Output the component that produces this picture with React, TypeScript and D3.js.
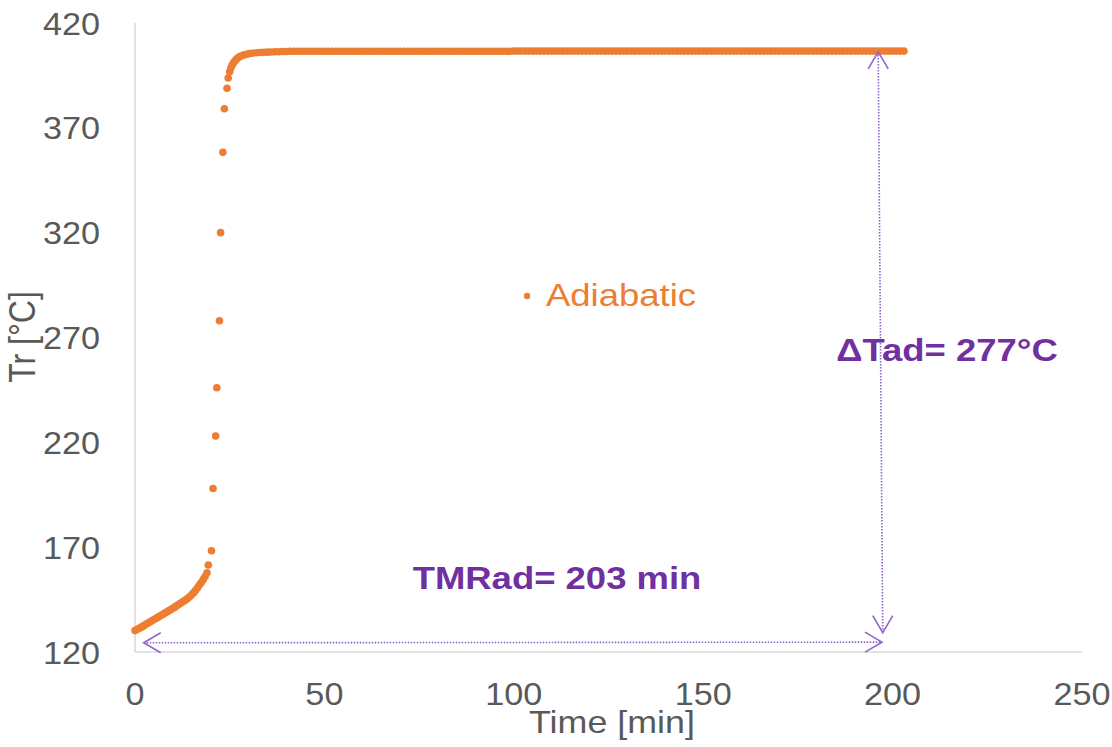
import React from "react";
import * as d3 from "d3";

const W = 1112;
const H = 747;

const xTicks = [0, 50, 100, 150, 200, 250];
const yTicks = [120, 170, 220, 270, 320, 370, 420];
const xTitle = "Time [min]";
const yTitle = "Tr [°C]";
const seriesName = "Adiabatic";
const tmrLabel = "TMRad= 203 min";
const dtLabel = "ΔTad= 277°C";

// [time min, Tr °C]
const adiabatic: [number, number][] = [
  [0, 130.2], [0.5, 130.7], [1, 131.2], [1.5, 131.7], [2, 132.2], [2.5, 132.7], [3, 133.3], [3.5, 133.8],
  [4, 134.4], [4.5, 134.9], [5, 135.5], [5.5, 136.0], [6, 136.5], [6.5, 137.0], [7, 137.6], [7.5, 138.1],
  [8, 138.7], [8.5, 139.2], [9, 139.8], [9.5, 140.3], [10, 140.9], [10.5, 141.4], [11, 142.0], [11.5, 142.6],
  [12, 143.2], [12.5, 143.8], [13, 144.4], [13.5, 145.0], [14, 145.7], [14.5, 146.5], [15, 147.4], [15.5, 148.3],
  [16, 149.4], [16.5, 150.6], [17, 151.9], [17.5, 153.1], [18, 154.5], [18.5, 156.0], [19, 157.8], [19.35, 161.5],
  [20.2, 168.3], [20.6, 198.0], [21.3, 223.0], [21.6, 246.0], [22.3, 278.0], [22.6, 320.0], [23.2, 358.3],
  [23.6, 379.1], [24.3, 388.9], [24.6, 393.8], [25.0, 396.8], [25.3, 398.5], [25.6, 399.8], [26.0, 401.0],
  [26.4, 402.0], [26.8, 402.8], [27.2, 403.4], [27.7, 404.0], [28.2, 404.4], [28.8, 404.8], [29.5, 405.1],
  [30.2, 405.4], [31, 405.6], [32, 405.8], [33, 405.9], [34, 406.0], [35, 406.1], [36, 406.2], [37, 406.3],
  [38, 406.3], [39, 406.4], [40, 406.4],
  [41, 406.5], [42, 406.5], [43, 406.5], [44, 406.5], [45, 406.5], [46, 406.5], [47, 406.5], [48, 406.5], [49, 406.5], [50, 406.5],
  [51, 406.5], [52, 406.5], [53, 406.5], [54, 406.5], [55, 406.5], [56, 406.5], [57, 406.5], [58, 406.5], [59, 406.5], [60, 406.5],
  [61, 406.5], [62, 406.5], [63, 406.5], [64, 406.5], [65, 406.5], [66, 406.5], [67, 406.5], [68, 406.5], [69, 406.5], [70, 406.5],
  [71, 406.5], [72, 406.5], [73, 406.5], [74, 406.5], [75, 406.5], [76, 406.5], [77, 406.5], [78, 406.5], [79, 406.5], [80, 406.5],
  [81, 406.5], [82, 406.5], [83, 406.5], [84, 406.5], [85, 406.5], [86, 406.5], [87, 406.5], [88, 406.5], [89, 406.5], [90, 406.5],
  [91, 406.5], [92, 406.5], [93, 406.5], [94, 406.5], [95, 406.5], [96, 406.5], [97, 406.5], [98, 406.5], [99, 406.5], [100, 406.6],
  [101, 406.6], [102, 406.6], [103, 406.6], [104, 406.6], [105, 406.6], [106, 406.6], [107, 406.6], [108, 406.6], [109, 406.6], [110, 406.6],
  [111, 406.6], [112, 406.6], [113, 406.6], [114, 406.6], [115, 406.6], [116, 406.6], [117, 406.6], [118, 406.6], [119, 406.6], [120, 406.6],
  [121, 406.6], [122, 406.6], [123, 406.6], [124, 406.6], [125, 406.6], [126, 406.6], [127, 406.6], [128, 406.6], [129, 406.6], [130, 406.6],
  [131, 406.6], [132, 406.6], [133, 406.6], [134, 406.6], [135, 406.6], [136, 406.6], [137, 406.6], [138, 406.6], [139, 406.6], [140, 406.6],
  [141, 406.6], [142, 406.6], [143, 406.6], [144, 406.6], [145, 406.6], [146, 406.6], [147, 406.6], [148, 406.6], [149, 406.6], [150, 406.6],
  [151, 406.6], [152, 406.6], [153, 406.6], [154, 406.6], [155, 406.6], [156, 406.6], [157, 406.6], [158, 406.6], [159, 406.6], [160, 406.6],
  [161, 406.6], [162, 406.6], [163, 406.6], [164, 406.6], [165, 406.6], [166, 406.6], [167, 406.6], [168, 406.6], [169, 406.6], [170, 406.6],
  [171, 406.6], [172, 406.6], [173, 406.6], [174, 406.6], [175, 406.6], [176, 406.6], [177, 406.6], [178, 406.6], [179, 406.6], [180, 406.6],
  [181, 406.6], [182, 406.6], [183, 406.6], [184, 406.6], [185, 406.6], [186, 406.6], [187, 406.6], [188, 406.6], [189, 406.6], [190, 406.6],
  [191, 406.6], [192, 406.6], [193, 406.6], [194, 406.6], [195, 406.6], [196, 406.6], [197, 406.6], [198, 406.6], [199, 406.6], [200, 406.6],
  [201, 406.6], [202, 406.6], [203, 406.6],
];

// annotation arrows, in data units
const vArrowTop: [number, number] = [196.2, 406.2];
const vArrowBottom: [number, number] = [197.4, 129.2];
const hArrowLeft: [number, number] = [2.3, 124.4];
const hArrowRight: [number, number] = [197.2, 124.7];

const FONT = "'Liberation Sans', Arial, sans-serif";
const ORANGE = "#ED7D31";
const PURPLE = "#7030A0";
const ARROW = "#8F63CC";
const GRAY = "#595959";

function T({ x, y, size, children, anchor = "middle", fill = GRAY, weight = "normal", rotate = 0, sx = 1.14 }: any) {
  return (
    <text
      transform={`translate(${x},${y}) scale(${sx},1) rotate(${rotate})`}
      fontSize={size}
      fontFamily={FONT}
      fontWeight={weight}
      textAnchor={anchor}
      fill={fill}
    >
      {children}
    </text>
  );
}

export default function App() {
  const x = d3.scaleLinear().domain([0, 250]).range([135, 1082]);
  const y = d3.scaleLinear().domain([120, 420]).range([652, 23]);

  const head = (tip: [number, number], dx: number, dy: number, dir: "up" | "down" | "left" | "right") => {
    const [tx, ty] = tip;
    if (dir === "up") return `M${tx - dx},${ty + dy}L${tx},${ty}L${tx + dx},${ty + dy}`;
    if (dir === "down") return `M${tx - dx},${ty - dy}L${tx},${ty}L${tx + dx},${ty - dy}`;
    if (dir === "left") return `M${tx + dy},${ty - dx}L${tx},${ty}L${tx + dy},${ty + dx}`;
    return `M${tx - dy},${ty - dx}L${tx},${ty}L${tx - dy},${ty + dx}`;
  };

  const vt: [number, number] = [x(vArrowTop[0]), y(vArrowTop[1])];
  const vb: [number, number] = [x(vArrowBottom[0]), y(vArrowBottom[1])];
  const hl: [number, number] = [x(hArrowLeft[0]), y(hArrowLeft[1])];
  const hr: [number, number] = [x(hArrowRight[0]), y(hArrowRight[1])];

  return (
    <svg width={W} height={H} style={{ position: "absolute", left: 0, top: 0, background: "#fff" }}>
      {/* axes */}
      <line x1={x(0)} x2={x(0)} y1={y(420)} y2={y(120)} stroke="#D9D9D9" strokeWidth={1.5} />
      <line x1={x(0)} x2={x(250)} y1={y(120)} y2={y(120)} stroke="#D9D9D9" strokeWidth={1.5} />

      {yTicks.map((t) => (
        <T key={"y" + t} x={100} y={y(t) + 11.5} size={32} sx={1.07} anchor="end">
          {t}
        </T>
      ))}
      {xTicks.map((t) => (
        <T key={"x" + t} x={x(t)} y={705} size={32} sx={1.07}>
          {t}
        </T>
      ))}
      <T x={612} y={733} size={32} sx={1.12}>
        {xTitle}
      </T>
      <T x={35} y={337} size={32} rotate={-90}>
        {yTitle}
      </T>

      {/* series */}
      {adiabatic.map(([t, v], i) => (
        <circle key={i} cx={x(t)} cy={y(v)} r={3.8} fill={ORANGE} />
      ))}

      {/* legend */}
      <circle cx={527} cy={296} r={3.2} fill={ORANGE} />
      <T x={546} y={306} size={32} anchor="start" fill={ORANGE}>
        {seriesName}
      </T>

      {/* arrows */}
      <g stroke={ARROW} fill="none" strokeWidth={1.6}>
        <line x1={vt[0]} y1={vt[1]} x2={vb[0]} y2={vb[1]} strokeDasharray="1.5 1.5" />
        <line x1={hl[0]} y1={hl[1]} x2={hr[0]} y2={hr[1]} strokeDasharray="1.5 1.5" />
        <path d={head(vt, 10, 17, "up")} />
        <path d={head(vb, 10, 17, "down")} />
        <path d={head(hl, 10, 17, "left")} />
        <path d={head(hr, 10, 17, "right")} />
      </g>

      <T x={557} y={589} size={32} weight="bold" fill={PURPLE}>
        {tmrLabel}
      </T>
      <T x={947} y={361} size={32} weight="bold" fill={PURPLE}>
        {dtLabel}
      </T>
    </svg>
  );
}
